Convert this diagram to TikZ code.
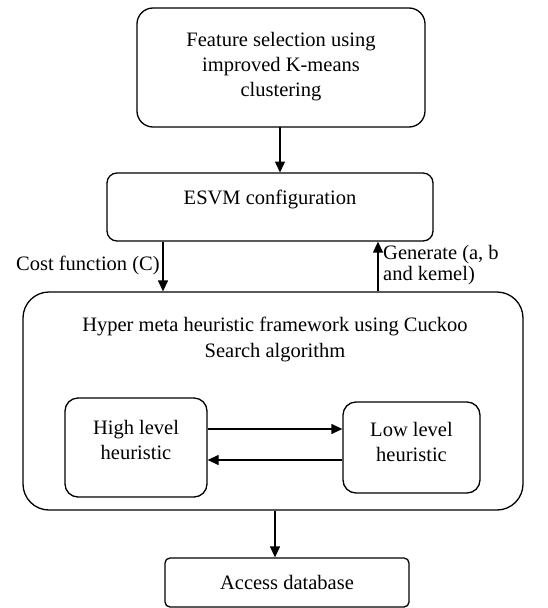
\documentclass[tikz,border=0pt]{standalone}
\usepackage{fontspec}
\setmainfont{Liberation Serif}
\usetikzlibrary{arrows.meta}
\begin{document}
\begin{tikzpicture}[x=1pt,y=-1pt,
  box/.style={draw, line width=1.3pt, inner sep=0pt, align=center, font=\fontsize{20.5}{25}\selectfont},
  lbl/.style={inner sep=0pt, align=left, font=\fontsize{20.5}{21}\selectfont},
  arr/.style={line width=1.3pt, -{Triangle[length=11pt,width=10pt]}}]
\useasboundingbox (0,0) rectangle (547,608);
\node[box, rounded corners=16pt, minimum width=288pt, minimum height=119pt, text depth=6pt] (feat) at (281,67.5) {Feature selection using\\improved K-means\\clustering};
\node[box, rounded corners=10pt, minimum width=326pt, minimum height=68pt, text depth=20pt] (esvm) at (270,207) {ESVM configuration};
\node[box, rounded corners=26pt, minimum width=500pt, minimum height=218pt] (frame) at (273,401) {};
\node[inner sep=0pt, align=center, font=\fontsize{20.5}{26}\selectfont] (title) at (275,339) {Hyper meta heuristic framework using Cuckoo\\Search algorithm};
\node[box, rounded corners=13pt, minimum width=142pt, minimum height=99pt, text depth=16pt] (high) at (136,447.5) {High level\\heuristic};
\node[box, rounded corners=13pt, minimum width=137pt, minimum height=91pt, text depth=12pt] (low) at (411.5,447.5) {Low level\\heuristic};
\node[box, rounded corners=5pt, minimum width=244pt, minimum height=49pt] (access) at (287,582.5) {Access database};
\draw[arr] (280,127) -- (280,172.5);
\draw[arr] (esvm.south -| 163,0) -- (frame.north -| 163,0);
\draw[arr] (frame.north -| 378,0) -- (esvm.south -| 378,0);
\node[lbl, anchor=west] (cost) at (16,265) {Cost function (C)};
\node[lbl, anchor=west] (gen) at (383,265) {Generate (a, b\\and kemel)};
\draw[arr] (high.east |- 0,429) -- (low.west |- 0,429);
\draw[arr] (low.west |- 0,460) -- (high.east |- 0,460);
\draw[arr] (frame.south -| 275,0) -- (access.north -| 275,0);
\end{tikzpicture}
\end{document}
